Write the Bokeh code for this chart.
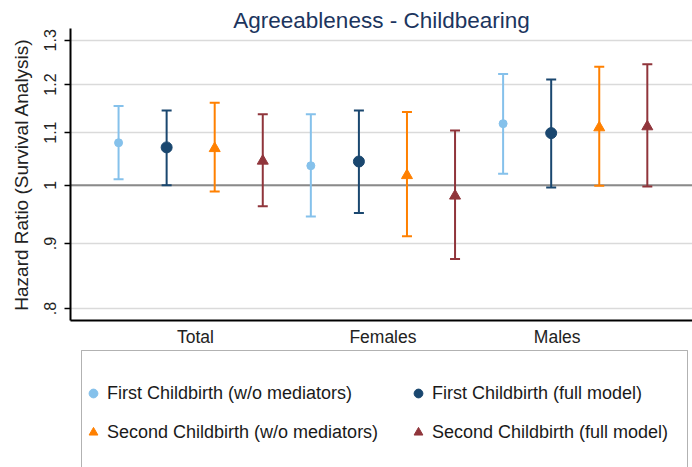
from bokeh.plotting import figure
from bokeh.models import (ColumnDataSource, Whisker, TeeHead, FixedTicker, Range1d,
                          Span, Legend, LegendItem, BoxAnnotation)
from bokeh.layouts import column
from bokeh.embed import file_html
from bokeh.resources import INLINE

# ---------------- data ----------------
groups = ["Total", "Females", "Males"]
group_label_pos = [2.6, 6.5, 10.125]

series_names = ["First Childbirth (w/o mediators)", "First Childbirth (full model)",
                "Second Childbirth (w/o mediators)", "Second Childbirth (full model)"]

first_wo_hr = [1.080, 1.036, 1.118]
first_wo_lo = [1.011, 0.945, 1.021]
first_wo_hi = [1.154, 1.137, 1.223]

first_full_hr = [1.071, 1.044, 1.099]
first_full_lo = [1.000, 0.951, 0.996]
first_full_hi = [1.145, 1.145, 1.211]

second_wo_hr = [1.069, 1.018, 1.110]
second_wo_lo = [0.989, 0.912, 0.999]
second_wo_hi = [1.161, 1.142, 1.239]

second_full_hr = [1.045, 0.981, 1.112]
second_full_lo = [0.963, 0.875, 0.998]
second_full_hi = [1.137, 1.104, 1.245]

y_ticks = [0.8, 0.9, 1.0, 1.1, 1.2, 1.3]
y_tick_labels = [".8", ".9", "1", "1.1", "1.2", "1.3"]

# ---------------- style ----------------
FONT = "Liberation Sans"
colors = ["#85C1EB", "#1A476F", "#FF8000", "#90353B"]
markers = ["circle", "circle", "triangle", "triangle"]
msizes = [8, 11, 11, 11]

p = figure(width=692, height=349,
           x_range=Range1d(0.0, 12.94), y_range=Range1d(0.783, 1.328),
           y_axis_type="log", toolbar_location=None, output_backend="svg",
           min_border_left=70, min_border_right=0, min_border_top=28,
           min_border_bottom=29, title="Agreeableness - Childbearing")

p.title.align = "center"
p.title.text_font = FONT
p.title.text_font_size = "22.5px"
p.title.text_font_style = "normal"
p.title.text_color = "#1C355E"
p.title.standoff = -8

p.outline_line_color = None
p.background_fill_color = "white"
p.border_fill_color = "white"

# y axis
p.yaxis.ticker = FixedTicker(ticks=y_ticks)
p.yaxis.major_label_overrides = {t: l for t, l in zip(y_ticks, y_tick_labels)}
p.yaxis.major_label_orientation = "vertical"
p.yaxis.major_tick_out = 6
p.yaxis.major_tick_in = 0
p.yaxis.major_tick_line_width = 1.5
p.yaxis.major_tick_line_color = "black"
p.yaxis.minor_tick_line_color = None
p.yaxis.axis_line_width = 2
p.yaxis.axis_line_color = "black"
p.yaxis.major_label_text_font = FONT
p.yaxis.major_label_text_font_size = "16px"
p.yaxis.major_label_text_color = "#222222"
p.yaxis.major_label_standoff = 8
p.yaxis.axis_label = "Hazard Ratio (Survival Analysis)"
p.yaxis.axis_label_text_font = FONT
p.yaxis.axis_label_text_font_size = "19px"
p.yaxis.axis_label_text_font_style = "normal"
p.yaxis.axis_label_text_color = "#222222"
p.yaxis.axis_label_standoff = 10

# x axis
p.xaxis.ticker = FixedTicker(ticks=group_label_pos)
p.xaxis.major_label_overrides = {t: g for t, g in zip(group_label_pos, groups)}
p.xaxis.major_tick_line_color = None
p.xaxis.minor_tick_line_color = None
p.xaxis.axis_line_width = 2
p.xaxis.axis_line_color = "black"
p.xaxis.major_label_text_font = FONT
p.xaxis.major_label_text_font_size = "17.5px"
p.xaxis.major_label_text_color = "#222222"
p.xaxis.major_label_standoff = 0

p.xgrid.visible = False
p.ygrid.grid_line_color = "#DADADA"
p.ygrid.grid_line_width = 1.5

ref = Span(location=1.0, dimension="width", line_color="#8A8A8A", line_width=2,
           level="underlay")
p.add_layout(ref)

all_series = [
    (first_wo_hr, first_wo_lo, first_wo_hi),
    (first_full_hr, first_full_lo, first_full_hi),
    (second_wo_hr, second_wo_lo, second_wo_hi),
    (second_full_hr, second_full_lo, second_full_hi),
]

for k, (hr, lo, hi) in enumerate(all_series):
    xs = [4 * g + k + 1 for g in range(len(groups))]
    src = ColumnDataSource(dict(x=xs, hr=hr, lo=lo, hi=hi))
    c = colors[k]
    w = Whisker(source=src, base="x", upper="hi", lower="lo", dimension="height",
                line_color=c, line_width=2,
                upper_head=TeeHead(size=10, line_color=c, line_width=2),
                lower_head=TeeHead(size=10, line_color=c, line_width=2))
    p.add_layout(w)
    p.scatter(x="x", y="hr", source=src, marker=markers[k], size=msizes[k],
              fill_color=c, line_color=c)

# ---------------- legend panel (pixel-unit ranges) ----------------
LW, LH = 622, 118
lf = figure(width=692, height=LH, x_range=Range1d(0, LW), y_range=Range1d(0, LH),
            toolbar_location=None, output_backend="svg",
            x_axis_location=None, y_axis_location=None,
            min_border_left=70, min_border_right=0, min_border_top=0,
            min_border_bottom=0)
lf.grid.visible = False
lf.outline_line_color = None
lf.background_fill_color = "white"
lf.border_fill_color = "white"

# legend frame (open at the bottom, as in the original which is cut off)
box = BoxAnnotation(left=11, right=617, bottom=-10, top=LH - 1,
                    fill_alpha=0, line_color="black", line_width=1)
lf.add_layout(box)

nan = float("nan")
dummy = []
for k in range(4):
    # legend-only renderers (no visible points)
    r = lf.scatter(x=[nan], y=[nan], marker=markers[k], size=msizes[k],
                   fill_color=colors[k], line_color=colors[k])
    dummy.append(r)

def make_legend(idx, loc):
    return Legend(items=[LegendItem(label=series_names[i], renderers=[dummy[i]]) for i in idx],
                  location=loc, orientation="vertical",
                  border_line_color=None, background_fill_alpha=0,
                  padding=0, margin=0, glyph_width=22, glyph_height=22,
                  label_height=22, label_standoff=3, spacing=17,
                  label_text_font=FONT, label_text_font_size="18px",
                  label_text_color="#1A1A1A")

lf.add_layout(make_legend([0, 2], (12, 24)))
lf.add_layout(make_legend([1, 3], (337, 24)))

layout = column(p, lf, spacing=0)

open("out.html", "w").write(file_html(layout, INLINE))
